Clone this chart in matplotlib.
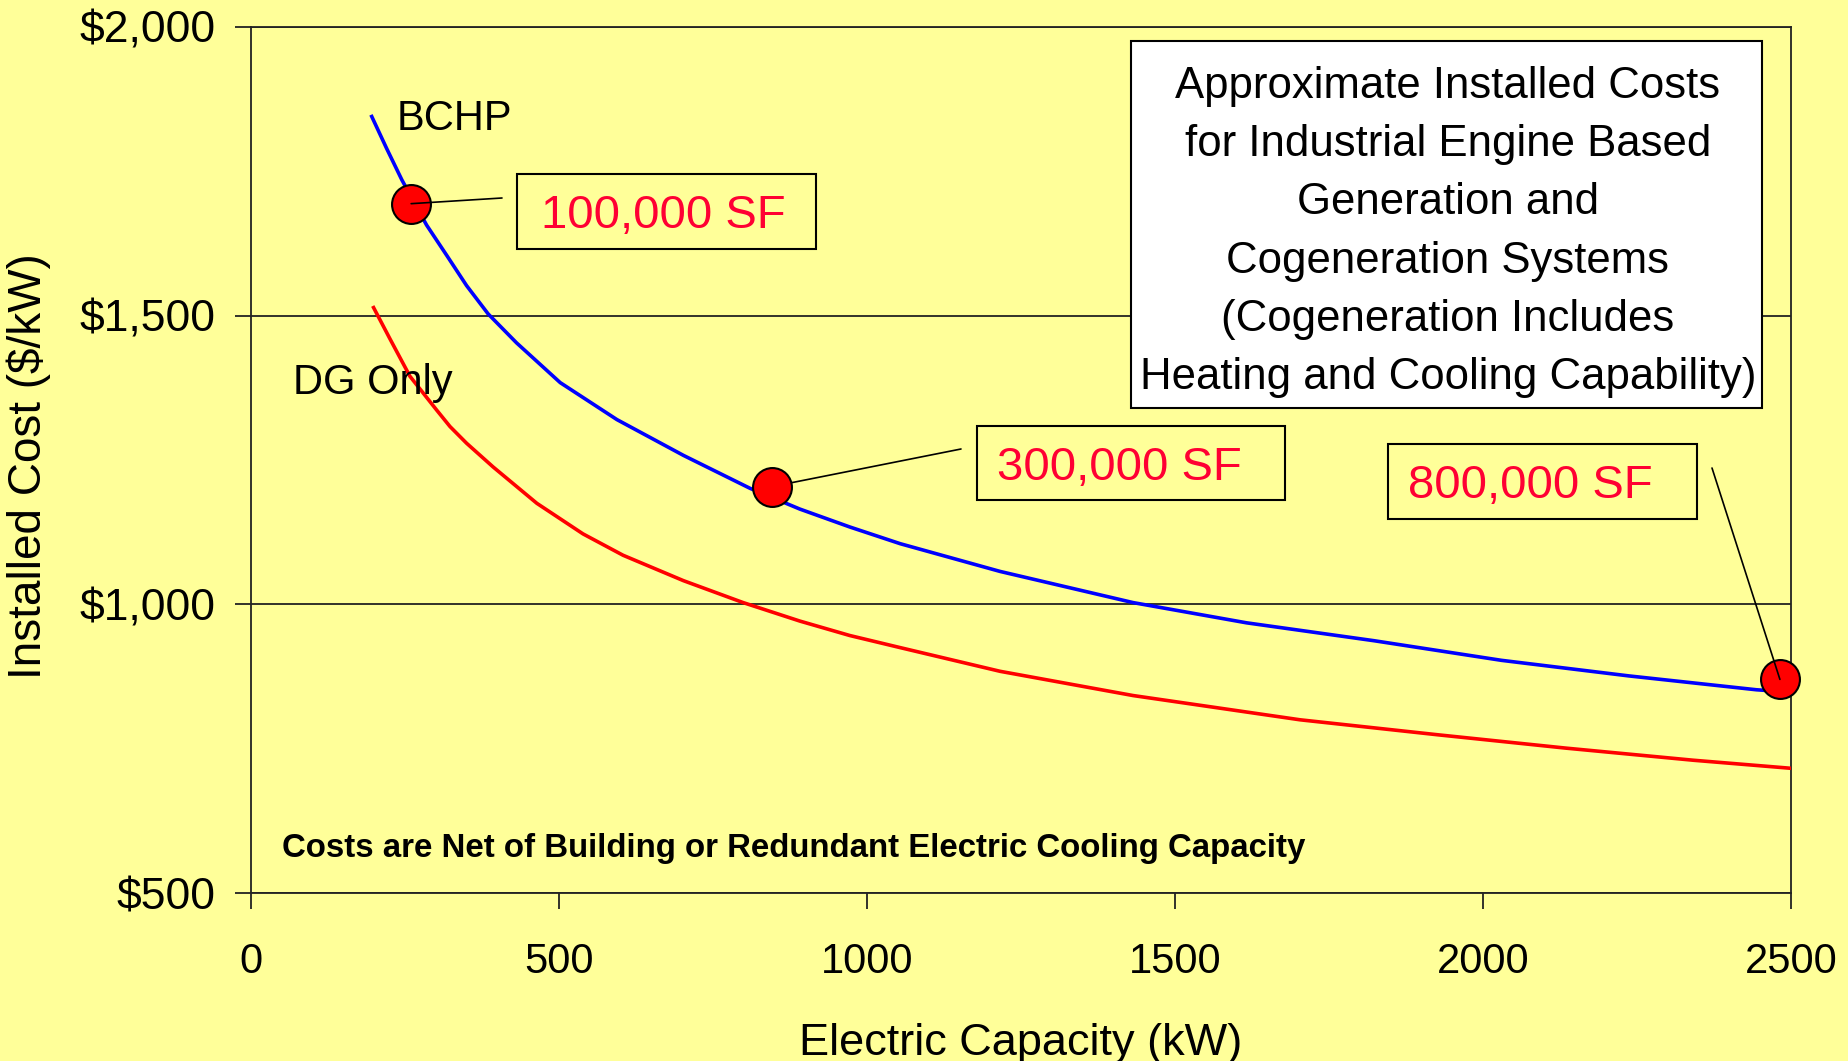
import matplotlib
matplotlib.use('Agg')
import matplotlib.pyplot as plt
from matplotlib import ticker
from matplotlib.patches import Rectangle

# BCHP curve (blue)
bchp_kw = [196, 220, 245, 285, 318, 350, 385, 431, 502, 594, 702, 810, 891, 972, 1054,
           1216, 1432, 1616, 1823, 2030, 2237, 2444, 2500]
bchp_cost = [1845, 1790, 1735, 1657, 1604, 1552, 1503, 1453, 1384, 1320, 1258, 1201, 1165, 1134, 1105,
             1057, 1003, 968, 937, 903, 876, 852, 848]

# DG only curve (red)
dg_kw = [199, 226, 258, 301, 323, 350, 393, 464, 539, 604, 702, 799, 891, 972, 1054,
         1216, 1432, 1703, 1927, 2134, 2341, 2500]
dg_cost = [1514, 1459, 1395, 1337, 1308, 1279, 1238, 1175, 1122, 1085, 1041, 1003, 971, 946, 925,
           884, 842, 800, 774, 751, 730, 716]

# building size points
marker_kw = [260, 846, 2482]
marker_cost = [1694, 1204, 870]
marker_labels = ['100,000 SF', '300,000 SF', '800,000 SF']

x_ticks = [0, 500, 1000, 1500, 2000, 2500]
y_ticks = [500, 1000, 1500, 2000]

title_lines = ['Approximate Installed Costs', 'for Industrial Engine Based', 'Generation and',
               'Cogeneration Systems', '(Cogeneration Includes', 'Heating and Cooling Capability)']

W, H = 1849, 1061
BG = '#FFFF99'
LABEL_RED = '#FF0033'
plt.rcParams['font.family'] = ['Liberation Sans', 'DejaVu Sans']


def fx(px):
    return px / W


def fy(py):
    return 1 - py / H


fig = plt.figure(figsize=(W / 100, H / 100), dpi=100, facecolor=BG)
ax = fig.add_axes([fx(251), fy(893), (1791 - 251) / W, (893 - 27) / H])
ax.set_facecolor(BG)

ax.plot(bchp_kw, bchp_cost, color='#0000FF', lw=2.6, zorder=3)
ax.plot(dg_kw, dg_cost, color='#FF0000', lw=2.6, zorder=3)

ax.set_xlim(0, 2500)
ax.set_ylim(500, 2000)
ax.set_xticks(x_ticks)
ax.set_yticks(y_ticks)
ax.yaxis.set_major_formatter(ticker.FuncFormatter(lambda v, p: f'${v:,.0f}'))
ax.tick_params(axis='both', direction='out', length=11.5, width=1.3, colors='#222222',
               labelsize=30, labelcolor='black')
ax.tick_params(axis='y', pad=14, labelsize=32)
ax.tick_params(axis='x', pad=24)
ax.grid(axis='y', color='#222222', lw=1.3)
for s in ax.spines.values():
    s.set_color('#222222')
    s.set_linewidth(1.3)

# leader lines from points to boxes
leader_ends = [(502, 198), (961, 449), (1712, 468)]
for i, (kw, cost) in enumerate(zip(marker_kw, marker_cost)):
    ex, ey = leader_ends[i]
    ax.annotate('', xy=(kw, cost), xycoords='data',
                xytext=(fx(ex), fy(ey)), textcoords='figure fraction',
                arrowprops=dict(arrowstyle='-', color='black', lw=1.2, shrinkA=0, shrinkB=0),
                zorder=4 if i == 1 else 6)

ax.plot(marker_kw, marker_cost, 'o', ms=28, mfc='#FF0000', mec='black', mew=1.5,
        zorder=5, clip_on=False)

# label boxes (left, top, right, bottom in pixels) and text left edge
boxes = [(517, 174, 816, 249, 541), (977, 426, 1285, 500, 997), (1388, 444, 1697, 519, 1408)]
for (l, t, r, b, tx), lab in zip(boxes, marker_labels):
    fig.add_artist(Rectangle((fx(l), fy(b)), (r - l) / W, (b - t) / H, transform=fig.transFigure,
                             facecolor=BG, edgecolor='black', lw=1.5, zorder=7))
    fig.text(fx(tx), fy((t + b) / 2 + 5), lab, color=LABEL_RED, fontsize=34,
             ha='left', va='center', zorder=8)

# title box
fig.add_artist(Rectangle((fx(1131), fy(408)), (1762 - 1131) / W, (408 - 41) / H,
                         transform=fig.transFigure, facecolor='white', edgecolor='black',
                         lw=1.5, zorder=7))
fig.text(fx(1448), fy(232), '\n'.join(title_lines), ha='center', va='center',
         fontsize=31.5, linespacing=1.54, zorder=8)

# curve names
fig.text(fx(397), fy(119), 'BCHP', fontsize=30, ha='left', va='center')
fig.text(fx(293), fy(383), 'DG Only', fontsize=30, ha='left', va='center')

fig.text(fx(282), fy(848), 'Costs are Net of Building or Redundant Electric Cooling Capacity',
         fontweight='bold', fontsize=23.8, ha='left', va='center')

fig.text(fx(1021), fy(1055), 'Electric Capacity (kW)', fontsize=32.5, ha='center', va='baseline')
fig.text(fx(29), fy(466), 'Installed Cost ($/kW)', fontsize=33, rotation=90,
         ha='center', va='center')

fig.savefig('out.png', dpi=100, facecolor=BG)
